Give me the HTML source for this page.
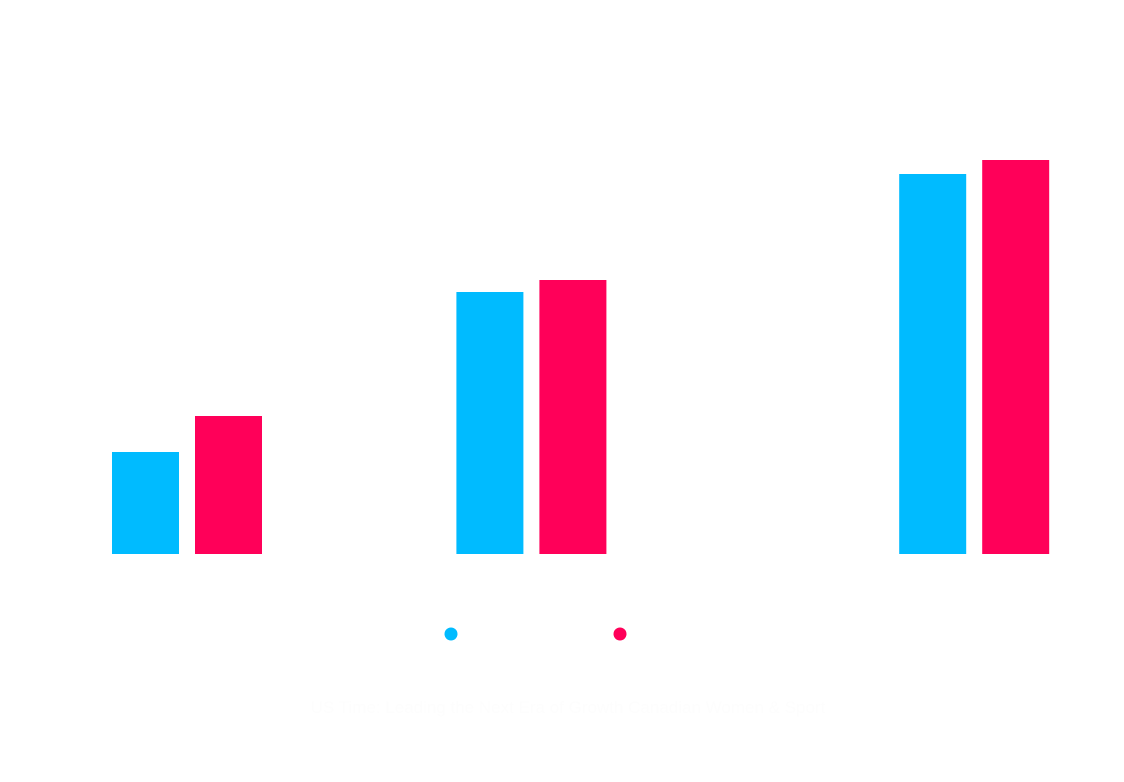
<!DOCTYPE html>
<html><head><meta charset="utf-8"><style>
html,body{margin:0;padding:0;background:#fff;width:1124px;height:782px;overflow:hidden;font-family:"Liberation Sans",sans-serif}
</style></head><body>
<svg id="chart" width="1124" height="782" xmlns="http://www.w3.org/2000/svg">
<g id="bars"></g>
<g>
<circle cx="451" cy="634" r="6.5" fill="#00bbff"/>
<text x="464" y="639" font-size="14" fill="#fff">Series A</text>
<circle cx="620" cy="634" r="6.5" fill="#ff0059"/>
<text x="633" y="639" font-size="14" fill="#fff">Series B</text>
</g>
<text x="568" y="713" font-size="17" text-anchor="middle" fill="#fdfdfd">US Time: Leading the Next Era of Growth Canadian Women &amp; Sport</text>
</svg>
<script>
const years = [2009, 2016, 2025];
const seriesA = [25.5, 65.5, 95];
const seriesB = [34.5, 68.5, 98.5];
const colors = ["#00bbff", "#ff0059"];
const baseY = 554, pxPerUnit = 4;
function xScale(v){ return 187 + (v - 2009) * 49.2; }
function yScale(v){ return baseY - v * pxPerUnit; }
const g = document.getElementById('bars');
const ns = "http://www.w3.org/2000/svg";
[seriesA, seriesB].forEach((s, si) => {
  s.forEach((v, i) => {
    const r = document.createElementNS(ns, 'rect');
    const cx = xScale(years[i]);
    const x = si === 0 ? cx - 75 : cx + 8;
    r.setAttribute('x', x);
    r.setAttribute('y', yScale(v));
    r.setAttribute('width', 67);
    r.setAttribute('height', baseY - yScale(v));
    r.setAttribute('fill', colors[si]);
    
    
    g.appendChild(r);
  });
});
</script>
</body></html>
